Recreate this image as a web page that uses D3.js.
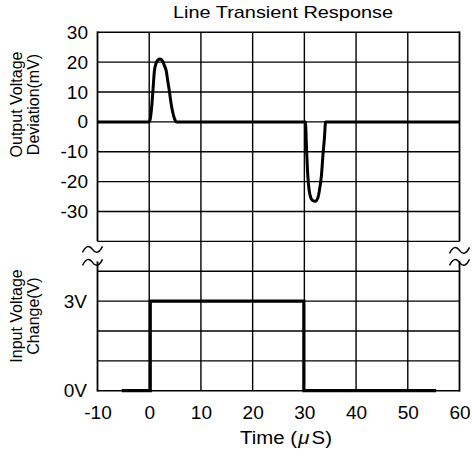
<!DOCTYPE html>
<html>
<head>
<meta charset="utf-8">
<script src="https://cdn.jsdelivr.net/npm/d3@7"></script>
<style>
  body { margin: 0; background: #fff; }
  text { font-family: "Liberation Sans", Arial, sans-serif; fill: #000; }
</style>
</head>
<body>
<svg id="chart" width="472" height="459"></svg>
<script>
// output voltage deviation (mV)
var outTime = [-10, 0, 0.2, 0.4, 0.7, 1.0, 1.35, 1.7, 2.1, 2.5, 2.9, 3.3, 3.6, 3.9, 4.2, 4.5, 4.9, 5.3,
               30.2, 30.4, 30.6, 30.8, 31.1, 31.6, 32.1, 32.6, 33.0, 33.3, 33.6, 33.9, 34.1, 60];
var outMv = [0, 0, 1, 3.6, 10, 17, 19.7, 20.8, 21.1, 20.6, 19, 17, 13.5, 10.3, 6.5, 3.6, 1, 0,
             0, -8, -16, -21, -24.5, -26.3, -26.6, -25.5, -22, -18, -11, -5, 0, 0];

// input voltage step (V)
var inTime = [-5.3, 0.2, 0.2, 29.9, 29.9, 55.5];
var inVolt = [0, 0, 3, 3, 0, 0];

// tick labels
var xTicks = [-10, 0, 10, 20, 30, 40, 50, 60];
var outTicks = [30, 20, 10, 0, -10, -20, -30];
var outGrid = [30, 20, 10, 0, -10, -20, -30, -40];
var inTicks = [0, 3];
var inGrid = [0, 1, 2, 3, 4];

(function () {
    var svg = d3.select('#chart');

    var pLeft = 97.5, pRight = 459.5, pTop = 32.3, pBottom = 390.7;
    var row = (pBottom - pTop) / 12;

    var x = d3.scaleLinear().domain([-10, 60]).range([pLeft, pRight]);
    var yOut = d3.scaleLinear().domain([-40, 30]).range([pTop + 7 * row, pTop]);
    var yIn = d3.scaleLinear().domain([0, 5]).range([pBottom, pBottom - 5 * row]);

    // grid: vertical lines
    var grid = svg.append('g').attr('stroke', '#000').attr('stroke-width', 1.4);
    grid.selectAll('.vx').data(xTicks.slice(1, -1)).enter()
        .append('line')
        .attr('x1', function (d) { return x(d); })
        .attr('x2', function (d) { return x(d); })
        .attr('y1', pTop)
        .attr('y2', pBottom);

    // grid: horizontal lines of both panels
    grid.selectAll('.ho').data(outGrid).enter()
        .append('line')
        .attr('x1', pLeft).attr('x2', pRight)
        .attr('y1', function (d) { return yOut(d); })
        .attr('y2', function (d) { return yOut(d); });
    grid.selectAll('.hi').data(inGrid).enter()
        .append('line')
        .attr('x1', pLeft).attr('x2', pRight)
        .attr('y1', function (d) { return yIn(d); })
        .attr('y2', function (d) { return yIn(d); });

    // frame sides, broken where the two panels meet
    var breakTop = yOut(-40), breakBot = yOut(-40) + 20;
    var frame = svg.append('g').attr('stroke', '#000').attr('stroke-width', 1.8).attr('fill', 'none');
    [pLeft, pRight].forEach(function (px) {
        frame.append('line').attr('x1', px).attr('x2', px).attr('y1', pTop - 0.9).attr('y2', breakTop);
        frame.append('line').attr('x1', px).attr('x2', px).attr('y1', breakBot).attr('y2', pBottom + 0.9);
    });

    // break marks (two tildes each side)
    var tilde = 'M-10,3 Q-5,-7 0,0 T10,-3';
    [[pLeft - 5, breakTop + 8], [pLeft - 5, breakTop + 21], [pRight, breakTop + 9], [pRight, breakTop + 21]].forEach(function (p) {
        svg.append('path')
            .attr('d', tilde)
            .attr('transform', 'translate(' + p[0] + ',' + p[1] + ')')
            .attr('fill', 'none')
            .attr('stroke', '#000')
            .attr('stroke-width', 1.5);
    });

    // output deviation trace
    var outLine = d3.line()
        .x(function (d, i) { return x(outTime[i]); })
        .y(function (d) { return yOut(d); })
        .curve(d3.curveMonotoneX);
    svg.append('path')
        .attr('d', outLine(outMv))
        .attr('fill', 'none')
        .attr('stroke', '#000')
        .attr('stroke-width', 3)
        .attr('stroke-linejoin', 'round');

    // input step trace
    var inLine = d3.line()
        .x(function (d, i) { return x(inTime[i]); })
        .y(function (d) { return yIn(d); });
    svg.append('path')
        .attr('d', inLine(inVolt))
        .attr('fill', 'none')
        .attr('stroke', '#000')
        .attr('stroke-width', 3.2);

    // axes (labels only)
    var fontSize = 19;
    function styleAxis(g) {
        g.select('.domain').remove();
        g.selectAll('line').remove();
        g.selectAll('text')
            .attr('font-size', fontSize)
            .attr('font-family', '"Liberation Sans", Arial, sans-serif')
            .attr('fill', '#000');
    }
    var plain = function (d) { return String(d); };
    svg.append('g')
        .attr('transform', 'translate(0,' + pBottom + ')')
        .call(d3.axisBottom(x).tickValues(xTicks).tickSize(0).tickPadding(15).tickFormat(plain))
        .call(styleAxis);
    svg.append('g')
        .attr('transform', 'translate(' + pLeft + ',0)')
        .call(d3.axisLeft(yOut).tickValues(outTicks).tickSize(0).tickPadding(9.5).tickFormat(plain))
        .call(styleAxis);
    svg.append('g')
        .attr('transform', 'translate(' + pLeft + ',0)')
        .call(d3.axisLeft(yIn).tickValues(inTicks).tickSize(0).tickPadding(10.5)
            .tickFormat(function (d) { return d + 'V'; }))
        .call(styleAxis);

    // title
    svg.append('text')
        .attr('x', 283).attr('y', 18)
        .attr('text-anchor', 'middle')
        .attr('font-size', 17)
        .attr('textLength', 220)
        .attr('lengthAdjust', 'spacingAndGlyphs')
        .text('Line Transient Response');

    // y labels
    function yLabel(lines, cy) {
        lines.forEach(function (t, i) {
            svg.append('text')
                .attr('transform', 'translate(' + (22 + i * 17) + ',' + cy + ') rotate(-90)')
                .attr('text-anchor', 'middle')
                .attr('font-size', 16)
                .text(t);
        });
    }
    yLabel(['Output Voltage', 'Deviation(mV)'], 104.5);
    yLabel(['Input Voltage', 'Change(V)'], 316);

    // x label
    var xl = svg.append('text')
        .attr('x', 286).attr('y', 444)
        .attr('text-anchor', 'middle')
        .attr('font-size', 18)
        .attr('textLength', 92)
        .attr('lengthAdjust', 'spacingAndGlyphs');
    xl.append('tspan').text('Time (');
    xl.append('tspan').attr('font-style', 'italic').attr('dx', 1).text('\u03bc');
    xl.append('tspan').attr('dx', 2).text('S)');
})();
</script>
</body>
</html>
